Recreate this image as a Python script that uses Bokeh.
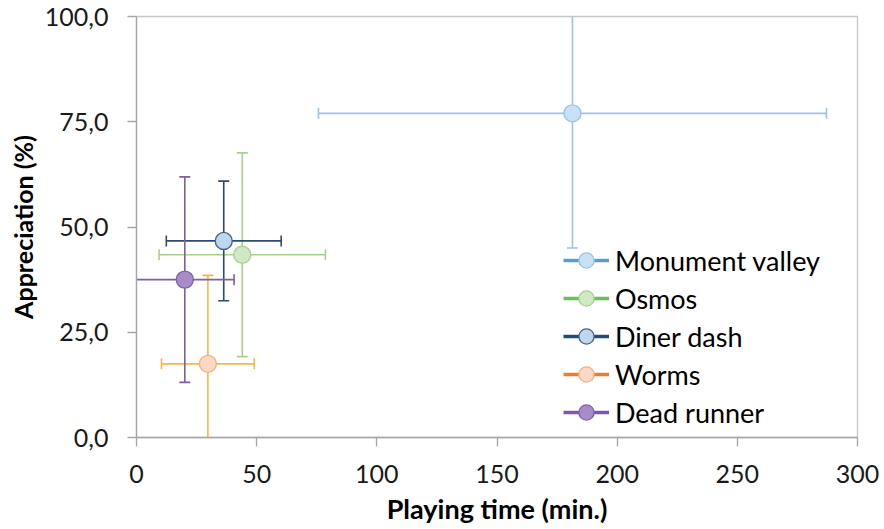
import numpy as np
from bokeh.plotting import figure
from bokeh.models import (Range1d, FixedTicker, CustomJSTickFormatter, Legend,
                          LegendItem, ColumnDataSource)
from bokeh.embed import file_html
from bokeh.resources import INLINE

# ---- data ----
games = ["Monument valley", "Osmos", "Diner dash", "Worms", "Dead runner"]
time_mean = [181.4, 44.0, 36.3, 29.7, 20.1]
time_err = [105.7, 34.6, 23.9, 19.3, 20.5]
appr_mean = [77.0, 43.4, 46.7, 17.5, 37.5]
appr_err = [32.0, 24.2, 14.2, 21.0, 24.4]
x_ticks = [0, 50, 100, 150, 200, 250, 300]
y_ticks = [0, 25, 50, 75, 100]

# ---- styles ----
bar_colors = ["#9DC3E6", "#A9D18E", "#2E4A70", "#F4B942", "#7E5FA0"]
legend_line_colors = ["#5B9BD5", "#6ABF5A", "#1F4E79", "#ED7D31", "#7E57A8"]
fill_colors = ["#C9E1F5", "#D0E8C4", "#BDD7EE", "#FBD9C4", "#A88BCB"]
edge_colors = ["#9DC3E6", "#A9D18E", "#4A6288", "#F4B183", "#8064A2"]

FONT = "Lato"

p = figure(frame_width=721, frame_height=421, output_backend="svg",
           toolbar_location=None, x_range=Range1d(0, 300), y_range=Range1d(0, 100),
           min_border_left=136, min_border_right=27, min_border_top=16,
           min_border_bottom=92)
p.grid.visible = False
p.outline_line_color = "#C6C6C6"
p.outline_line_width = 1.3
p.background_fill_color = "white"
p.border_fill_color = "white"

for ax in (p.xaxis[0], p.yaxis[0]):
    ax.axis_line_color = "#A6A6A6"
    ax.axis_line_width = 1.3
    ax.major_tick_line_color = "#A6A6A6"
    ax.major_tick_line_width = 1.3
    ax.major_tick_in = 0
    ax.major_tick_out = 9
    ax.minor_tick_line_color = None
    ax.major_label_text_font = FONT
    ax.major_label_text_font_size = "25px"
    ax.major_label_text_color = "#1a1a1a"
    ax.axis_label_text_font = FONT
    ax.axis_label_text_font_style = "bold"
    ax.axis_label_text_color = "#000000"

p.xaxis.axis_label_text_font_size = "27px"
p.yaxis.axis_label_text_font_size = "25px"
p.xaxis.ticker = FixedTicker(ticks=x_ticks)
p.yaxis.ticker = FixedTicker(ticks=y_ticks)
p.yaxis.formatter = CustomJSTickFormatter(code="return tick.toFixed(1).replace('.', ',');")
p.xaxis.axis_label = "Playing time (min.)"
p.yaxis.axis_label = "Appreciation (%)"
p.xaxis.major_label_standoff = 18
p.yaxis.major_label_standoff = 19
p.xaxis.axis_label_standoff = 6
p.yaxis.axis_label_standoff = 4

items = []
for i, g in enumerate(games):
    xm, ym = time_mean[i], appr_mean[i]
    xe, ye = time_err[i], appr_err[i]
    c = bar_colors[i]
    src = ColumnDataSource(dict(
        x=[xm], y=[ym],
        xl=[xm - xe], xu=[xm + xe],
        yl=[ym - ye], yu=[ym + ye]))
    # horizontal error bar
    p.segment(x0="xl", y0="y", x1="xu", y1="y", source=src, line_color=c, line_width=1.6)
    # vertical error bar
    p.segment(x0="x", y0="yl", x1="x", y1="yu", source=src, line_color=c, line_width=1.6)
    # caps
    p.scatter(x="xl", y="y", source=src, marker="dash", angle=np.pi / 2, size=11,
              line_color=c, line_width=1.6)
    p.scatter(x="xu", y="y", source=src, marker="dash", angle=np.pi / 2, size=11,
              line_color=c, line_width=1.6)
    p.scatter(x="x", y="yl", source=src, marker="dash", size=11, line_color=c, line_width=1.6)
    p.scatter(x="x", y="yu", source=src, marker="dash", size=11, line_color=c, line_width=1.6)

for i, g in enumerate(games):
    src = ColumnDataSource(dict(x=[time_mean[i]], y=[appr_mean[i]]))
    # single-point line: draws nothing in the plot, only its legend swatch
    lr = p.line(x="x", y="y", source=src, line_color=legend_line_colors[i], line_width=3.6)
    mr = p.scatter(x="x", y="y", source=src, marker="circle", size=17,
                   fill_color=fill_colors[i], line_color=edge_colors[i], line_width=1.4)
    items.append(LegendItem(label=g, renderers=[lr, mr]))

legend = Legend(items=items, location=(427, 6), orientation="vertical")
legend.label_text_font = FONT
legend.label_text_font_size = "27px"
legend.label_text_color = "#000000"
legend.glyph_width = 46
legend.glyph_height = 38
legend.spacing = 0
legend.label_standoff = 6
legend.padding = 0
legend.margin = 0
legend.border_line_alpha = 0
legend.background_fill_alpha = 0
p.add_layout(legend)

open("out.html", "w").write(file_html(p, INLINE))
